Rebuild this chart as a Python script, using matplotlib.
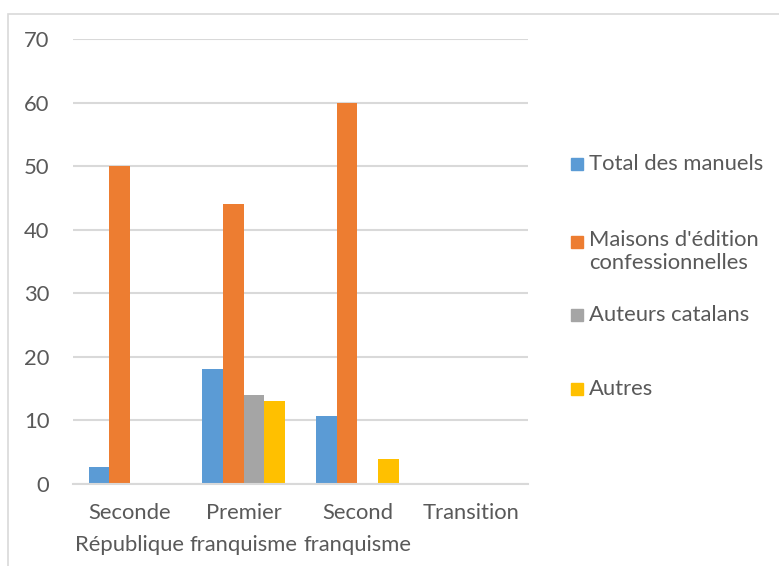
import matplotlib.pyplot as plt
from matplotlib.patches import Rectangle
import numpy as np

# Données
periodes = ['Seconde\nRépublique', 'Premier\nfranquisme', 'Second\nfranquisme', 'Transition']
series = ['Total des manuels', "Maisons d'édition\nconfessionnelles", 'Auteurs catalans', 'Autres']
total_manuels = [2.7, 18.1, 10.7, 0]
maisons_confessionnelles = [50, 44, 60, 0]
auteurs_catalans = [0, 14, 0, 0]
autres = [0, 13, 3.9, 0]
yticks = [0, 10, 20, 30, 40, 50, 60, 70]

couleurs = ['#5b9bd5', '#ed7d31', '#a5a5a5', '#ffc000']
texte = '#595959'
grille = '#d9d9d9'
fs = 15.8

plt.rcParams['font.family'] = ['Lato', 'DejaVu Sans']

fig = plt.figure(figsize=(7.79, 5.66), dpi=100)
ax = fig.add_axes([73 / 779, 1 - 484 / 566, 455 / 779, 445 / 566])

# Cadre du graphique (coupé à droite et en bas)
fig.patches.append(Rectangle((8 / 779, -0.2), 1.2, 1.2 - 14 / 566,
                             transform=fig.transFigure, fill=False,
                             edgecolor=grille, linewidth=1.2))

x = np.arange(len(periodes))
w = 1 / 5.5
valeurs = [total_manuels, maisons_confessionnelles, auteurs_catalans, autres]
for i, (vals, c) in enumerate(zip(valeurs, couleurs)):
    ax.bar(x + (i - 1.5) * w, vals, width=w, color=c, zorder=3)

ax.set_xlim(-0.5, len(periodes) - 0.5)
ax.set_ylim(0, 70)
ax.set_yticks(yticks)
ax.yaxis.grid(True, color=grille, linewidth=1.5, zorder=0)
ax.set_axisbelow(True)
for s in ['top', 'right', 'left']:
    ax.spines[s].set_visible(False)
ax.spines['bottom'].set_color(grille)
ax.spines['bottom'].set_linewidth(1.5)
ax.spines['bottom'].set_zorder(4)

ax.set_xticks(x)
ax.set_xticklabels(periodes, fontsize=fs, color=texte, linespacing=1.75)
ax.tick_params(axis='x', length=0, pad=14)
ax.tick_params(axis='y', length=0, pad=17, labelsize=fs, labelcolor=texte)

# Légende (à droite)
leg_y = [164, 242, 315, 389]
for nom, c, yy in zip(series, couleurs, leg_y):
    fig.patches.append(Rectangle((571 / 779, 1 - (yy + 6) / 566), 12 / 779, 12 / 566,
                                 transform=fig.transFigure, color=c))
    if '\n' in nom:
        fig.text(589 / 779, 1 - (yy - 12) / 566, nom, fontsize=fs, color=texte,
                 ha='left', va='top', linespacing=1.2)
    else:
        fig.text(589 / 779, 1 - yy / 566, nom, fontsize=fs, color=texte,
                 ha='left', va='center')

fig.savefig('out.png', dpi=100)
